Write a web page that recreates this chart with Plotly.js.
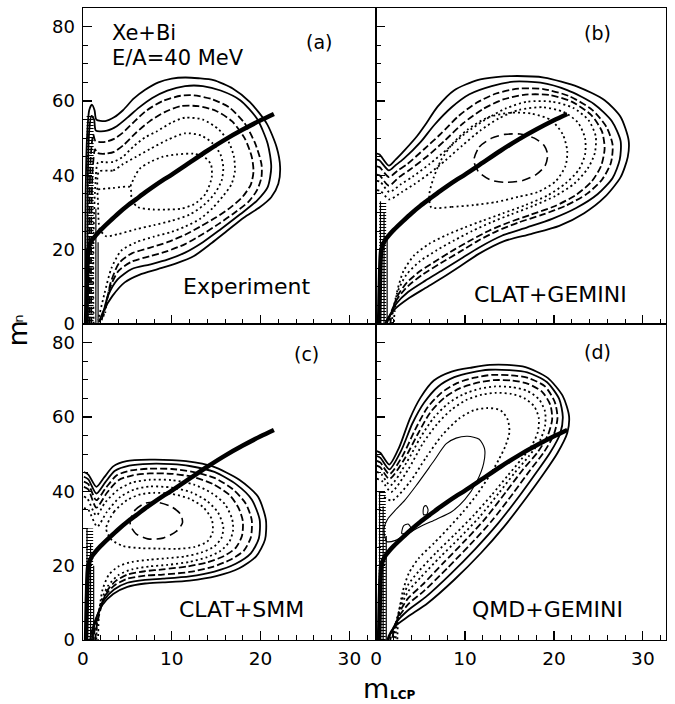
<!DOCTYPE html>
<html><head><meta charset="utf-8">
<script src="https://cdn.plot.ly/plotly-3.0.1.min.js"></script>
<style>html,body{margin:0;padding:0;background:#fff}</style>
</head><body>
<div id="chart" style="width:675px;height:704px"></div>
<script>
// ---------------- DATA ----------------
// mean curve (same in all panels)
const meanX = [0.35,0.45,0.6,1.0,1.5,2,3,4,5,6,7,8,9,10,12,14,16,18,20,21.5];
const meanY = [0,12,20,22.5,24,25.3,27.6,29.8,31.8,33.6,35.4,37.1,38.7,40.2,43.4,46.6,49.6,52.3,54.8,56.5];

// contour lines, each as flat [x,y, x,y, ...] lists, outermost first
const contoursA = [
 [0.35,0, 0.25,15, 0.3,35, 0.45,50, 0.7,57.5, 1.0,59, 1.3,57.5, 1.5,55, 2.5,54.6, 3.5,55.6, 4.5,57.5, 5.7,60.6, 7,63, 8.5,65, 10,66, 11.5,66.3, 13,66.1, 14.7,65.6, 16.9,63.3, 18.8,59.7, 20.7,53.9, 21.8,47.6, 22.2,42.2, 22,37.7, 21.2,34.1, 19.9,31.4, 18.1,28.6, 16.2,25, 14.5,21.8, 12.5,18.3, 10.5,16.3, 8.5,14.8, 6.4,13.3, 4.7,11.2, 3.3,7.5, 2.3,3.5, 1.8,0.5],
 [0.55,0, 0.5,18, 0.55,40, 0.7,52, 0.95,56, 1.25,55, 1.45,52, 2.7,52, 3.8,53.2, 5,55.5, 6.3,58.2, 7.8,60.8, 9.5,62.8, 11.5,64, 13.5,64, 15.5,62.8, 17.7,60.2, 19.6,55.2, 20.8,48.5, 21.2,42.2, 20.8,36.8, 19.6,33.2, 17.7,29.5, 15.4,25.3, 13.5,22, 11.5,19.2, 9.5,17.3, 7.5,16, 5.5,14.8, 3.9,12, 2.8,7.5, 2.1,1],
 [0.75,0, 0.7,15, 0.75,35, 0.9,46, 1.15,51, 1.4,49.2, 2.5,49, 3.5,49.8, 4.5,51.5, 5.8,54.5, 7.2,57.5, 9,60, 11,61.4, 12.5,61.5, 14.5,60.5, 16.5,58.2, 18.2,54, 19.4,48.5, 20.1,43, 20.1,39.5, 19.6,36, 18.6,32.8, 17,29.8, 15.2,26.8, 13.5,24.2, 11.5,21.5, 9.5,19.6, 7.5,18.2, 5.5,16.8, 4,14.3, 3,9.5, 2.3,2],
 [0.95,0, 0.9,12, 0.95,30, 1.1,42, 1.35,47, 1.6,46, 2.5,45.8, 3.5,46.3, 4.6,48.2, 6,51.5, 7.5,54.5, 9.2,57, 11,58.6, 13,58.6, 15,57.3, 16.8,54.5, 18.2,50, 19,45, 19.2,41, 18.9,37.5, 18,34.3, 16.7,31.5, 15,28.7, 13.2,26.2, 11.5,24, 9.5,22, 7.5,20.5, 5.5,19, 4.1,16.5, 3.1,11, 2.5,3],
 [1.2,0, 1.15,10, 1.2,25, 1.4,38, 1.7,43.5, 2.5,43.5, 3.4,43.6, 4.5,45, 5.7,47.8, 7,50.2, 8.3,51.8, 10,54.2, 11.5,55.5, 13.5,55, 15.3,52.3, 16.4,49, 17,45, 17.1,41, 16.7,37.5, 15.8,34.5, 14.6,31.2, 13.2,28.3, 11.5,26.2, 10,24.8, 8,23.5, 6,22, 4.3,19.7, 3.2,15, 2.4,8, 1.7,1],
 [1.8,41, 3.4,41.3, 4.5,43, 6,45, 7.5,47, 9.5,49.5, 11.5,51.3, 13.3,50.7, 14.6,48.6, 15.5,45.5, 15.8,42, 15.6,38.5, 14.8,35, 13.6,32, 12,29.4, 10,27.8, 8,26.6, 6,25.5, 4,24.2, 2.6,23.6, 1.9,25.5, 1.7,32, 1.8,41],
 [1.7,36.2, 3.5,36.6, 5.3,36.8, 5.5,33.2, 6.2,31.4, 7.9,30.8, 9.5,30.8, 11,31, 12.5,32.2, 13.8,35, 14.5,39.5, 14.4,43, 13.6,45, 12.4,45.8, 10.5,45.6, 9,45, 7.5,43.5, 6.4,41.8, 5.8,39.5, 5.3,36.8]
];
const contoursB = [
 [0.1,45.8, 0.4,45.6, 1.45,42.6, 2.2,44.2, 3.2,46.7, 4.6,50.5, 5.6,53.8, 6.9,58.4, 8.8,62.9, 11.4,65.6, 13.5,66.4, 15.2,66.7, 18.9,66.3, 22.7,63.8, 25.7,60.2, 27.5,55.7, 28.4,49.4, 28.3,44.9, 27.5,39.5, 25.7,34.1, 23.4,29.8, 20.6,26.4, 17.4,24.2, 14.4,22.3, 11.5,18.8, 9.5,15.6, 7.5,12.5, 5.5,9.6, 3.6,6.8, 2.2,4.2, 1.3,1.5, 1,0],
 [0.1,44.2, 0.4,44, 1.45,41.3, 2.2,42.7, 3.1,44.4, 5,48.9, 6.5,53.4, 8.5,58.3, 10.5,61.8, 13,64, 15.5,65.2, 18.5,64.9, 21.5,62.9, 24.5,59.2, 26.5,54.6, 27.5,49.2, 27.4,44.2, 26.6,39.3, 24.9,34.9, 22.5,31.2, 19.8,28.3, 17,26, 14.2,23.8, 11.6,20.6, 9.5,17.5, 7.5,14.5, 5.5,11.6, 3.6,8.6, 2.3,5.5, 1.5,2, 1.2,0],
 [0.1,42.4, 0.4,42.2, 1.45,39.5, 2.4,41.2, 3.5,43, 5.4,47, 7.3,51.2, 9.3,56, 11.3,59.5, 13.5,62, 16,63.3, 18.8,63.2, 21.7,61.3, 24.3,57.6, 25.9,53, 26.6,48.2, 26.4,43.3, 25.4,38.8, 23.7,35, 21.3,31.8, 18.7,29.4, 16,27.3, 13.6,25, 11.4,22.3, 9.4,19.4, 7.3,16.4, 5.3,13.4, 3.6,10.2, 2.4,6.8, 1.6,2.5, 1.4,0],
 [0.1,40.2, 0.4,40, 1.45,37.2, 2.6,39.5, 3.8,41.5, 5.8,45.2, 7.8,49.5, 9.8,54, 12,57.8, 14.3,60.4, 16.8,61.7, 19.5,61.6, 22,59.8, 24.2,56.2, 25.4,51.8, 25.7,47.2, 25.3,42.5, 24.2,38.2, 22.4,34.6, 20,31.6, 17.4,29.4, 14.9,27.3, 12.7,25.1, 10.7,22.6, 8.8,20, 6.9,17.2, 5,14.3, 3.5,11.2, 2.4,7.5, 1.8,3, 1.6,0],
 [0.1,38.5, 0.5,38.2, 1.5,35.5, 2.8,37.6, 4.1,39.6, 6,43, 8,47, 10,51.2, 12.3,55, 14.6,58, 17,59.8, 19.8,59.8, 22.2,58.1, 23.9,54.8, 24.7,50.5, 24.6,46, 23.8,41.8, 22.3,37.8, 20.2,34.5, 17.7,31.8, 15.2,29.5, 12.9,27.3, 10.8,25, 8.8,22.5, 6.8,19.8, 4.9,16.8, 3.4,13.2, 2.4,8.5, 1.9,3.5, 1.8,0],
 [0.1,36, 0.5,35.8, 1.5,33.5, 2.9,35.5, 4.3,37.6, 6,40.5, 7.8,44, 9.7,48, 11.7,52, 13.8,55.3, 16.1,57.6, 18.8,58.3, 21.1,57, 22.7,54.2, 23.5,50, 23.5,45.6, 22.8,41.5, 21.3,37.8, 19.3,34.6, 16.8,32, 14.3,29.8, 12,27.8, 10,26, 8,24, 6,21.6, 4.3,18.5, 3.1,14.3, 2.4,9, 2.1,3.5, 2,0],
 [6.2,31.4, 8.5,31.5, 11,32, 13.5,32.8, 16,34.2, 18.2,35.5, 20.2,38.4, 21.3,42.5, 21.5,46.5, 21,51, 19.7,54.8, 17.5,56.6, 15,56.8, 12.5,55.5, 10.3,52.3, 8.6,48.5, 7.3,44, 6.5,39.5, 6,35, 6.2,31.4],
 [11,44, 11.6,47.6, 13,50, 14.5,51, 16.2,51.1, 17.8,50, 18.9,48, 19.3,45.5, 19,42.5, 18,40.2, 16.5,38.6, 14.5,38.1, 12.8,38.8, 11.5,41, 11,44]
];
const contoursC = [
 [0.1,45.2, 0.6,44.5, 1.5,41.2, 2.4,43.8, 3.4,46.7, 4.9,48.1, 7.5,48.5, 10,48.4, 11.6,48.1, 14.6,46.7, 17.6,43.1, 19.7,38.6, 20.6,32.3, 20.5,27, 19.5,22.5, 17.6,19.3, 15,17.2, 12,16, 9,15.5, 7,15.2, 5,14.3, 3.4,12.4, 2.2,9.5, 1.4,5.5, 0.9,1.5, 0.8,0],
 [0.1,43.9, 0.6,43.2, 1.5,39.4, 2.5,42.4, 3.6,45.5, 5.2,46.9, 7.5,47.4, 10,47.3, 12,46.8, 14.8,45.2, 17.3,41.8, 19,37.8, 19.9,32.3, 19.8,27.3, 18.9,23.3, 17.2,20.5, 14.8,18.4, 12,17.1, 9,16.5, 7,16.2, 5,15.4, 3.5,13.6, 2.4,10.8, 1.6,6.5, 1.1,2, 1,0],
 [0.1,42.6, 0.6,41.9, 1.5,37.6, 2.6,41, 3.8,44.3, 5.4,45.6, 7.5,46.1, 10,46, 12.2,45.3, 14.8,43.6, 16.9,40.5, 18.3,36.8, 19,32.3, 18.9,27.6, 18.1,24, 16.6,21.6, 14.5,19.6, 12,18.3, 9,17.6, 7,17.3, 5,16.5, 3.6,14.8, 2.5,12, 1.8,7.5, 1.3,2.5, 1.2,0],
 [0.1,41.2, 0.6,40.5, 1.5,35.6, 2.7,39.6, 4,43, 5.6,44.3, 7.5,44.8, 10,44.7, 12.3,43.9, 14.6,42, 16.5,39, 17.5,35.6, 18,32, 17.9,28, 17.2,24.8, 15.9,22.6, 14,20.9, 11.8,19.8, 9,19, 7,18.5, 5,17.6, 3.7,15.9, 2.7,13.2, 2,8.5, 1.5,3, 1.4,0],
 [0.1,38.6, 0.5,38, 1.5,33.5, 2.5,37, 4,40.5, 5.5,42.3, 7.5,43.1, 10,43, 12.5,41.8, 14.5,39.5, 16,36.5, 16.8,32.5, 16.9,29.5, 16.5,26.5, 15.5,24, 14,22.3, 12,21, 9.5,20.2, 7.5,19.8, 5.5,19, 4,17.5, 2.8,14.5, 2,10, 1.6,5, 1.5,0],
 [0.1,35.5, 0.6,35, 1.6,30.5, 2.7,34.5, 4.2,38.5, 5.8,40.5, 7.5,41.3, 10,41, 12.2,39.7, 14,37.3, 15.2,34.3, 15.8,30.5, 15.6,27.5, 14.8,25.2, 13.3,23.5, 11.5,22.5, 9.5,22, 7.5,21.6, 5.5,21, 4,19.8, 2.9,17.5, 2.2,13.5, 1.8,7, 1.7,0],
 [2.6,30, 3.5,34.5, 5,37.7, 6.5,39.2, 8,39.6, 10,39.3, 12,38, 13.5,35.8, 14.5,32.5, 14.6,29, 14,26.5, 12.5,25, 10.5,24.5, 8.5,24.6, 6.5,24.7, 4.5,25.3, 3.2,27, 2.6,30],
 [5.3,32, 5.8,34.8, 7,36.8, 8.5,37, 10,35.8, 11,33.8, 11.2,31.5, 10.5,29.2, 9,27.4, 7.3,27.2, 6,28.5, 5.4,30.5, 5.3,32]
];
const contoursD = [
 [0.1,50.8, 0.5,50.3, 1.5,47.2, 2.6,51.8, 3.8,59.5, 5,65.2, 6.5,69.8, 8.5,72.2, 10.8,73.3, 12.8,74, 14.8,74, 16.8,73.4, 19.3,70.5, 21,65.6, 21.7,60.2, 21.5,55.7, 20.4,50.3, 18.9,44.9, 17,38.6, 14.4,30.5, 11.8,23.4, 8.8,16.2, 5.8,9.9, 3.6,6.3, 2.1,3.6, 1.4,1, 1.3,0],
 [0.1,49.5, 0.5,49, 1.5,45.9, 2.8,50.8, 4.1,58.3, 5.4,63.8, 7,68.2, 8.8,70.7, 10.8,72, 12.7,72.7, 15,72.6, 17,72, 19.2,69.4, 20.6,64.8, 21,60, 20.7,55.5, 19.6,50.5, 18.1,45.3, 16.2,39, 13.7,31.3, 11.2,24.6, 8.4,17.8, 5.6,11.6, 3.6,8, 2.3,4.8, 1.6,1.5, 1.4,0],
 [0.1,48.2, 0.5,47.7, 1.5,44.6, 3,49.6, 4.4,56.6, 5.8,62.6, 7.4,66.6, 9.1,69.1, 11.1,70.6, 13,71.3, 15.2,71.2, 17.1,70.5, 19,68.2, 20.1,64, 20.4,59.7, 20,55.3, 18.9,50.6, 17.3,45.6, 15.4,39.4, 13,32, 10.6,25.7, 8,19.3, 5.4,13.2, 3.6,9.6, 2.5,6, 1.8,2, 1.6,0],
 [0.1,46.9, 0.5,46.4, 1.5,43.3, 3.2,48.7, 4.7,55.4, 6.1,61.2, 7.7,65.2, 9.4,67.7, 11.4,69.2, 13.2,69.9, 15.3,69.8, 17.1,68.9, 18.7,66.7, 19.6,63.2, 19.8,59.3, 19.3,55, 18.2,50.6, 16.5,45.8, 14.6,39.8, 12.3,32.7, 10,26.7, 7.6,20.8, 5.2,14.8, 3.6,11.2, 2.6,7.2, 2,2.5, 1.8,0],
 [0.1,45.2, 0.6,44.6, 1.6,41.6, 3.4,47.6, 5,54.5, 6.5,59.8, 8.1,63.6, 9.8,66.1, 11.7,67.6, 13.4,68.2, 15.3,68, 17,67, 18.3,64.8, 19,61.5, 19,57.5, 18.4,53.5, 17.2,49.5, 15.6,45, 13.8,39.5, 11.6,33, 9.4,27.5, 7.2,22.3, 5,16.8, 3.6,13, 2.7,8.5, 2.1,3, 2,0],
 [0.1,43.4, 0.7,42.7, 1.7,39.8, 3.6,45.8, 5.3,53, 6.9,58.2, 8.5,62, 10.1,64.5, 11.9,66, 13.5,66.5, 15.2,66.2, 16.7,65, 17.8,62.8, 18.3,59.7, 18.2,56, 17.5,52.3, 16.3,48.5, 14.8,44.2, 13,39, 11,33.6, 8.9,28.5, 6.8,23.6, 4.8,18.5, 3.6,14.8, 2.8,10, 2.3,4, 2.2,0],
 [0.9,38.5, 1.8,37.5, 3.8,42.5, 5.6,49, 7.4,55, 9.3,59.5, 11,61.8, 12.5,62.4, 14,61.8, 14.8,59.3, 15,56, 14.6,52.5, 13.8,48.5, 12.7,44, 11.3,39, 9.8,34.5, 8.3,30.5, 6.5,26, 4.8,22, 3.7,18, 3,13, 2.5,6, 2.4,0],
 [1.2,26.5, 2.2,26.8, 3.5,28.5, 5,30.5, 6.8,32.5, 8.5,34.5, 10,37.8, 11.3,42.5, 12.1,47.5, 12.2,51.5, 11.6,54, 10.3,54.8, 9,54.3, 7.9,52.8, 6.4,47.8, 4.5,41.5, 3.2,37.5, 2.2,35, 1.3,32.5, 0.9,30, 1.2,26.5],
 [5.35,33.7, 5.7,33.8, 5.85,35, 5.65,36.1, 5.4,35.9, 5.3,34.8, 5.35,33.7],
 [2.9,28.6, 3.5,28.9, 3.9,30.2, 3.6,31.2, 3.1,30.7, 2.9,28.6]
];

// narrow ridge at m_LCP ~ 0-1: [x, top, x, top, ...]
const spikeA = [1.45,31, 1.7,22];
const spikeB = [0.5,33, 0.9,30, 1.25,24];
const spikeC = [0.45,30, 0.85,26, 1.2,20];
const spikeD = [0.4,40, 0.8,36, 1.15,28];
// hatched band [x, top]
const hatchA = [0.8,56];
const hatchB = [0.75,33];
const hatchC = [0.75,30];
const hatchD = [0.7,40];

const labelsIn = ['Experiment','CLAT+GEMINI','CLAT+SMM','QMD+GEMINI'];
const panelTags = ['(a)','(b)','(c)','(d)'];

// ---------------- DRAWING ----------------
const stylesA = ['solid','solid','dash','dash','dot','dot','dot'];
const stylesB = ['solid','solid','dash','dash','dot','dot','dot','ldash'];
const stylesC = ['solid','solid','dash','dash','dot','dot','dot','ldash'];
const stylesD = ['solid','solid','dash','dash','dot','dot','dot','thin','thin','thin'];
const DASH = {solid:'solid', dash:'7px,3px', dot:'2px,3px', ldash:'9px,5px', thin:'solid'};
const WID  = {solid:1.8, dash:1.8, dot:1.8, ldash:1.6, thin:1.1};

const panels = [
  {c:contoursA, s:stylesA, sp:spikeA, h:hatchA, xa:'x',  ya:'y'},
  {c:contoursB, s:stylesB, sp:spikeB, h:hatchB, xa:'x2', ya:'y2'},
  {c:contoursC, s:stylesC, sp:spikeC, h:hatchC, xa:'x3', ya:'y3'},
  {c:contoursD, s:stylesD, sp:spikeD, h:hatchD, xa:'x4', ya:'y4'}
];
function split(a){const x=[],y=[];for(let i=0;i<a.length;i+=2){x.push(a[i]);y.push(a[i+1]);}return {x,y};}
const traces = [];
function line(x,y,p,w,dash,shape){
  traces.push({type:'scatter',mode:'lines',x:x,y:y,xaxis:p.xa,yaxis:p.ya,
    line:{color:'#000',width:w,dash:dash||'solid',shape:shape||'spline',smoothing:0.7},
    hoverinfo:'skip',showlegend:false});
}
panels.forEach(p=>{
  p.c.forEach((arr,i)=>{const d=split(arr);const st=p.s[i];line(d.x,d.y,p,WID[st],DASH[st]);});
  for(let i=0;i<p.sp.length;i+=2){line([p.sp[i],p.sp[i]],[0,p.sp[i+1]],p,1.2,'solid','linear');}
  line([p.h[0],p.h[0]],[0,p.h[1]],p,7,'1px,2px','linear');
  line(meanX,meanY,p,4.5,'solid','spline');
});

const F = 'DejaVu Sans, Liberation Sans, Arial, sans-serif';
const minorX = {ticks:'inside',ticklen:5,dtick:2,tick0:0,tickcolor:'#000',tickwidth:1};
const minorY = {ticks:'inside',ticklen:5,dtick:5,tick0:0,tickcolor:'#000',tickwidth:1};
function xax(dom,anchor,labels,rmax){return {domain:dom,anchor:anchor,range:[0,rmax],showline:true,linecolor:'#000',linewidth:1.4,mirror:true,
  ticks:'inside',ticklen:9,tickwidth:1.2,tickcolor:'#000',dtick:10,tick0:0,minor:minorX,showgrid:false,zeroline:false,
  showticklabels:labels,ticklabelstandoff:1,tickfont:{family:F,size:18.5,color:'#000'},fixedrange:true};}
function yax(dom,anchor,labels){return {domain:dom,anchor:anchor,range:[0,85],showline:true,linecolor:'#000',linewidth:1.4,mirror:true,
  ticks:'inside',ticklen:9,tickwidth:1.2,tickcolor:'#000',dtick:20,tick0:0,minor:minorY,showgrid:false,zeroline:false,
  showticklabels:labels,ticklabelstandoff:3,tickfont:{family:F,size:18,color:'#000'},fixedrange:true};}
const XS = 0.5026;
const ann = [];
function txt(t,xr,yr,x,y,size,xanchor,extra){const a={text:t,xref:xr,yref:yr,x:x,y:y,showarrow:false,xanchor:xanchor||'center',yanchor:'middle',font:{family:F,size:size,color:'#000'}};Object.assign(a,extra||{});ann.push(a);}
txt('Xe+Bi','x','y',3.0,78.3,21,'left');
txt('E/A=40 MeV','x','y',3.0,71.5,21,'left');
txt(panelTags[0],'x','y',26.6,75.9,19);
txt(panelTags[1],'x2','y2',24.9,78.3,19);
txt(panelTags[2],'x3','y3',25.2,76.8,19);
txt(panelTags[3],'x4','y4',24.9,77.4,19);
txt(labelsIn[0],'x','y',18.4,10.2,22);
txt(labelsIn[1],'x2','y2',19.6,8.0,22);
txt(labelsIn[2],'x3','y3',17.9,8.1,22);
txt(labelsIn[3],'x4','y4',19.3,8.1,22);
// axis titles: m_n (vertical) and m_LCP
txt('m','paper','paper',-0.113,0.485,27,'center',{textangle:-90});
txt('n','paper','paper',-0.110,0.508,13,'center',{textangle:-90});
txt('m','paper','paper',0.5026,-0.0767,27,'center');
txt('<b>LCP</b>','paper','paper',0.548,-0.0875,12,'center');

const layout = {
  width:675,height:704,margin:{l:83,r:9,t:8,b:64},paper_bgcolor:'#fff',plot_bgcolor:'#fff',showlegend:false,
  xaxis:xax([0,XS],'y',false,33), xaxis2:xax([XS,1],'y2',false,32.6),
  xaxis3:xax([0,XS],'y3',true,33), xaxis4:xax([XS,1],'y4',true,32.6),
  yaxis:yax([0.5,1],'x',true), yaxis2:yax([0.5,1],'x2',false),
  yaxis3:yax([0,0.5],'x3',true), yaxis4:yax([0,0.5],'x4',false),
  annotations:ann
};
Plotly.newPlot('chart',traces,layout,{staticPlot:true,displayModeBar:false});
</script>
</body></html>
